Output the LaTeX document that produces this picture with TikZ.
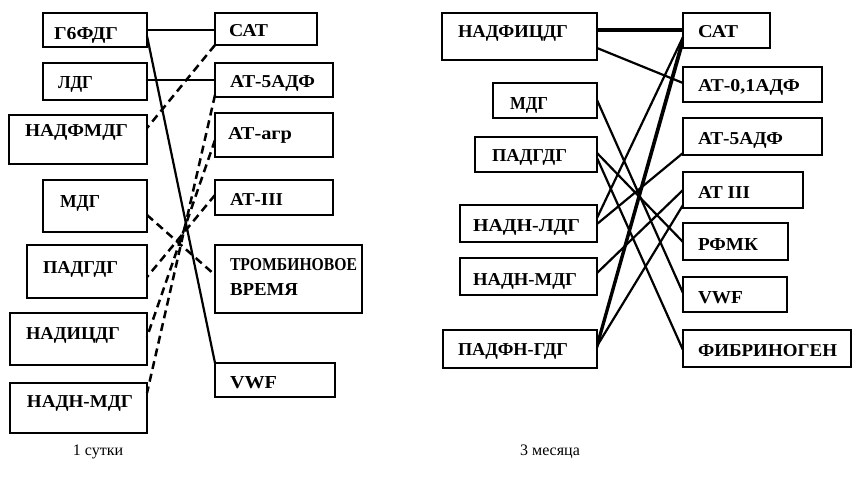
\documentclass[tikz,border=0pt]{standalone}
\usepackage{fontspec}
\setmainfont{Liberation Serif}
\usetikzlibrary{calc}
% box: name, x1, y1, x2, y2, label x, label baseline, label width, label
\newcommand\bx[9]{%
  \node[box, minimum width={(#4)-(#2)}, minimum height={(#5)-(#3)}] (#1) at (#2,#3) {};
  \node[lbl] (#1-t) at (#6,#7) {\resizebox{#8pt}{12pt}{#9}};}
\begin{document}
\begin{tikzpicture}[x=1pt,y=-1pt,
  box/.style={draw, line width=2.4pt, inner sep=0pt, outer sep=0pt, anchor=north west},
  lbl/.style={inner sep=0pt, outer sep=0pt, anchor=base west, font=\bfseries},
  link/.style={line width=2.2pt},
  thicklink/.style={line width=4pt},
  dlink/.style={line width=2.5pt, dash pattern=on 8pt off 5pt},
  caption/.style={font=\fontsize{16}{19}\selectfont, inner sep=0pt}]
\fill[white] (0,0) rectangle (853,481);

% ---------- 1 сутки ----------
\bx{g6}{43}{13}{147}{47}{54}{40}{64}{Г6ФДГ}
\bx{ldg}{43}{63}{147}{100}{58}{89}{35}{ЛДГ}
\bx{nadfmdg}{9}{115}{147}{164}{25}{137}{103}{НАДФМДГ}
\bx{mdg}{43}{180}{147}{232}{60}{207}{40}{МДГ}
\bx{padgdg}{27}{245}{147}{298}{43}{273}{75}{ПАДГДГ}
\bx{nadicdg}{10}{313}{147}{365}{26}{339}{94}{НАДИЦДГ}
\bx{nadnmdg}{10}{383}{147}{433}{27}{407}{106}{НАДН-МДГ}

\bx{sat}{215}{13}{317}{45}{229}{37}{39}{САТ}
\bx{atfive}{215}{63}{333}{97}{230}{88}{85}{АТ-5АДФ}
\bx{atagr}{215}{113}{333}{157}{228}{140}{64}{АТ-агр}
\bx{atthree}{215}{180}{333}{215}{230}{205}{53}{АТ-III}
\bx{tromb}{215}{245}{362}{313}{230}{270}{127}{ТРОМБИНОВОЕ}
\node[lbl] (tromb-u) at (230,295) {\resizebox{68pt}{12pt}{ВРЕМЯ}};
\bx{vwf}{215}{363}{335}{397}{230}{388}{47}{VWF}

\draw[link] ($(g6.north east)+(0,17)$) -- ($(sat.north west)+(0,17)$);
\draw[link] ($(ldg.north east)+(0,17)$) -- ($(atfive.north west)+(0,17)$);
\draw[link] ($(g6.north east)+(0,23)$) -- (vwf.north west);

\draw[dlink] (sat.south west) -- ($(nadfmdg.north east)+(0,13)$);
\draw[dlink] ($(atfive.north west)+(0,32)$) -- ($(nadnmdg.north east)+(0,10)$);
\draw[dlink] ($(atagr.north west)+(0,27)$) -- ($(nadicdg.north east)+(0,24)$);
\draw[dlink] ($(atthree.north west)+(0,15)$) -- ($(padgdg.north east)+(0,32)$);
\draw[dlink] ($(mdg.north east)+(0,35)$) -- ($(tromb.north west)+(0,30)$);

\node[caption] (day) at (98,452) {1 сутки};

% ---------- 3 месяца ----------
\bx{rnadficdg}{442}{13}{597}{60}{458}{38}{110}{НАДФИЦДГ}
\bx{rmdg}{493}{83}{597}{118}{510}{110}{38}{МДГ}
\bx{rpadgdg}{475}{137}{597}{172}{492}{161}{75}{ПАДГДГ}
\bx{rnadnldg}{460}{205}{597}{242}{473}{231}{107}{НАДН-ЛДГ}
\bx{rnadnmdg}{460}{258}{597}{295}{473}{285}{104}{НАДН-МДГ}
\bx{rpadfngdg}{443}{330}{597}{368}{458}{355}{110}{ПАДФН-ГДГ}

\bx{rsat}{683}{13}{770}{48}{698}{38}{40}{САТ}
\bx{ratzero}{683}{67}{822}{102}{698}{92}{102}{АТ-0,1АДФ}
\bx{ratfive}{683}{118}{822}{155}{698}{145}{85}{АТ-5АДФ}
\bx{ratthree}{683}{172}{803}{208}{698}{198}{52}{АТ III}
\bx{rrfmk}{683}{223}{788}{260}{698}{250}{60}{РФМК}
\bx{rvwf}{683}{277}{787}{312}{698}{303}{45}{VWF}
\bx{rfib}{683}{330}{851}{367}{698}{356}{139}{ФИБРИНОГЕН}

\draw[thicklink] ($(rnadficdg.north east)+(0,17)$) -- ($(rsat.north west)+(0,17)$);
\draw[link] ($(rnadficdg.north east)+(0,35)$) -- ($(ratzero.north west)+(0,16)$);
\draw[link] ($(rmdg.north east)+(0,17)$) -- ($(rvwf.north west)+(0,16)$);
\draw[link] ($(rpadgdg.north east)+(0,16)$) -- ($(rrfmk.north west)+(0,19)$);
\draw[link] ($(rpadgdg.north east)+(0,21)$) -- ($(rfib.north west)+(0,20)$);
\draw[link] ($(rnadnldg.north east)+(0,13)$) -- ($(rsat.north west)+(0,24)$);
\draw[link] ($(rnadnldg.north east)+(0,19)$) -- ($(ratfive.north west)+(0,35)$);
\draw[link] ($(rnadnmdg.north east)+(0,15)$) -- ($(ratthree.north west)+(0,18)$);
\draw[link] ($(rpadfngdg.north east)+(0,14)$) -- ($(rsat.north west)+(0,24)$);
\draw[link] ($(rpadfngdg.north east)+(0,18)$) -- ($(rsat.north west)+(0,30)$);
\draw[link] ($(rpadfngdg.north east)+(0,16)$) -- ($(ratthree.north west)+(0,33)$);

\node[caption] (month) at (550,452) {3 месяца};
\end{tikzpicture}
\end{document}
